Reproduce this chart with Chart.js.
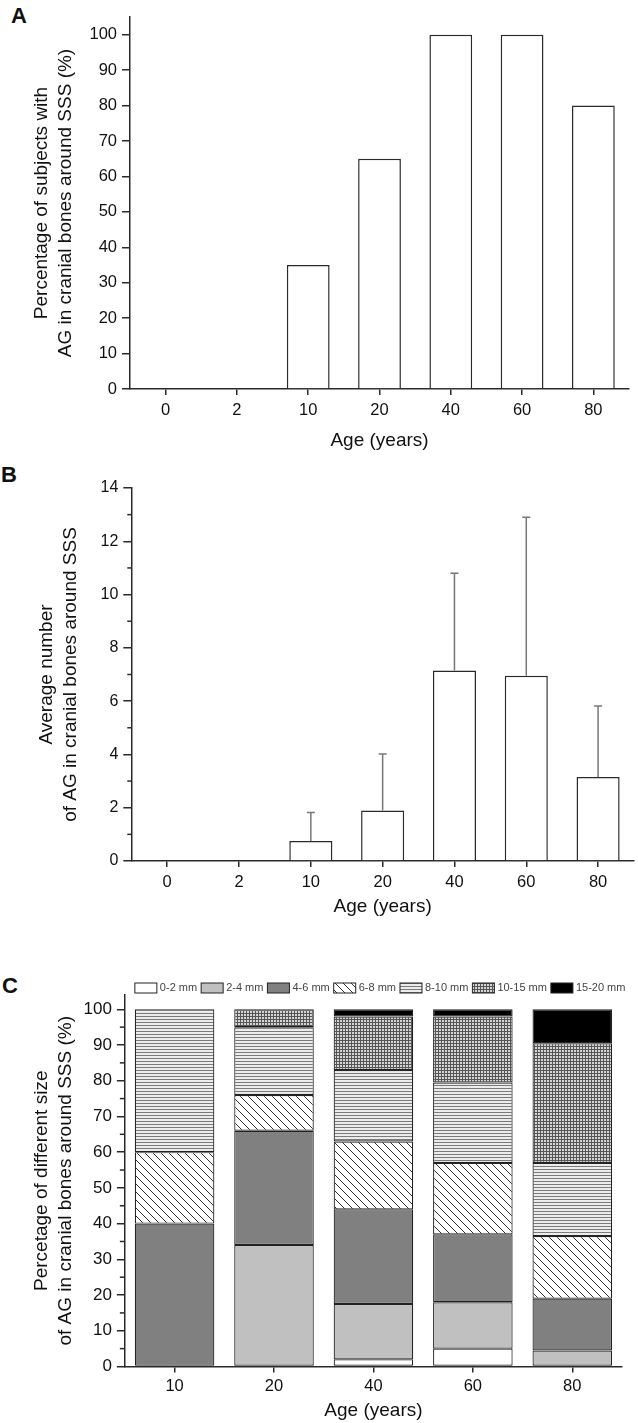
<!DOCTYPE html>
<html>
<head>
<meta charset="utf-8">
<script src="https://cdn.jsdelivr.net/npm/chart.js@4.4.1/dist/chart.umd.min.js"></script>
<style>
    body { margin: 0; background: #fff; }
    #page { position: relative; width: 638px; height: 1423px; overflow: hidden; }
    canvas { position: absolute; left: 0; }
    .panel { position: absolute; font: bold 22px "Liberation Sans", Arial, sans-serif; color: #111; line-height: 22px; }
</style>
</head>
<body>
<div id="page">
    <div class="panel" style="left:11px;top:5px">A</div>
    <div class="panel" style="left:1px;top:464px">B</div>
    <div class="panel" style="left:2px;top:975px">C</div>
    <canvas id="chartA" width="638" height="460" style="top:0px"></canvas>
    <canvas id="chartB" width="638" height="460" style="top:460px"></canvas>
    <canvas id="chartC" width="638" height="503" style="top:920px"></canvas>
</div>
<script>
// data
const ageLabels = ['0', '2', '10', '20', '40', '60', '80'];
const pctSubjects = [0, 0, 35, 65, 100, 100, 80];
const avgNumber = [0, 0, 0.75, 1.9, 7.15, 6.95, 3.15];
const avgNumberSD = [0, 0, 1.07, 2.12, 3.65, 5.95, 2.67];

const sizeAgeLabels = ['10', '20', '40', '60', '80'];
const sizeLabels = ['0-2 mm', '2-4 mm', '4-6 mm', '6-8 mm', '8-10 mm', '10-15 mm', '15-20 mm'];
const size0to2 = [0, 0, 2, 5, 0];
const size2to4 = [0, 34, 15.5, 13, 4.5];
const size4to6 = [40, 32, 26.5, 19, 14.5];
const size6to8 = [20, 10, 19, 20, 17.5];
const size8to10 = [40, 19, 20, 22.5, 20.5];
const size10to15 = [0, 5, 15, 18.5, 33.5];
const size15to20 = [0, 0, 2, 2, 9.5];

const FONT = '"Liberation Sans", Arial, sans-serif';
const INK = '#111';
const LINE = '#2a2a2a';

Chart.defaults.font.family = FONT;
Chart.defaults.color = INK;
Chart.defaults.animation = false;

// little tiles for the hatched fills
function makePattern(size, draw) {
    const c = document.createElement('canvas');
    c.width = size; c.height = size;
    const g = c.getContext('2d');
    draw(g, size);
    return document.getElementById('chartC').getContext('2d').createPattern(c, 'repeat');
}

const diagFill = makePattern(8, (g, s) => {
    g.fillStyle = '#fff'; g.fillRect(0, 0, s, s);
    g.strokeStyle = '#333'; g.lineWidth = 1;
    g.beginPath();
    g.moveTo(-1, -1); g.lineTo(s + 1, s + 1);
    g.moveTo(-1, s - 1); g.lineTo(1, s + 1);
    g.moveTo(s - 1, -1); g.lineTo(s + 1, 1);
    g.stroke();
});
const stripeFill = makePattern(3, (g, s) => {
    g.fillStyle = '#ececec'; g.fillRect(0, 0, s, s);
    g.fillStyle = '#7a7a7a'; g.fillRect(0, 0, s, 1);
});
const gridFill = makePattern(3, (g, s) => {
    g.fillStyle = '#d6d6d6'; g.fillRect(0, 0, s, s);
    g.fillStyle = '#555'; g.fillRect(0, 0, s, 1); g.fillRect(0, 0, 1, s);
});

function yAxis(opts) {
    return {
        min: 0,
        max: opts.max,
        border: { display: true, color: LINE, width: 1.5 },
        grid: { display: true, drawOnChartArea: false, drawTicks: true, tickLength: 8, color: LINE, lineWidth: 1.5 },
        ticks: { stepSize: opts.step, includeBounds: false, padding: 5, font: { size: opts.tickSize || 16.5 }, color: INK },
        afterBuildTicks: (scale) => { scale.ticks = scale.ticks.filter(t => t.value % opts.step === 0); },
        title: {
            display: true,
            text: opts.title,
            font: { size: 19, lineHeight: 1.25 },
            color: INK,
            padding: { top: opts.titleTop, bottom: opts.titleBottom }
        }
    };
}

function xAxis(tickPad, titleTop, titleBottom) {
    return {
        offset: true,
        border: { display: true, color: LINE, width: 1.5 },
        grid: { display: true, offset: false, drawOnChartArea: false, drawTicks: true, tickLength: 6, color: LINE, lineWidth: 1.5 },
        ticks: { padding: tickPad, font: { size: 16.5, lineHeight: 1 }, color: INK, maxRotation: 0 },
        title: {
            display: true,
            text: 'Age (years)',
            font: { size: 19, lineHeight: 1 },
            color: INK,
            padding: { top: titleTop, bottom: titleBottom }
        }
    };
}

// minor ticks between the labelled ones
function minorTicks(values, len) {
    return {
        id: 'minorTicks',
        afterDraw(chart) {
            const { ctx } = chart;
            const y = chart.scales.y;
            ctx.save();
            ctx.strokeStyle = LINE;
            ctx.lineWidth = 1.5;
            values.forEach(v => {
                const py = y.getPixelForValue(v);
                ctx.beginPath();
                ctx.moveTo(y.right - len, py);
                ctx.lineTo(y.right, py);
                ctx.stroke();
            });
            ctx.restore();
        }
    };
}

// ---------- A ----------
new Chart(document.getElementById('chartA'), {
    type: 'bar',
    data: {
        labels: ageLabels,
        datasets: [{
            data: pctSubjects,
            backgroundColor: '#fff',
            borderColor: LINE,
            borderWidth: 1.5,
            barPercentage: 0.6,
            categoryPercentage: 1
        }]
    },
    options: {
        responsive: false,
        layout: { padding: { top: 17, right: 9, bottom: 6, left: 0 } },
        plugins: { legend: { display: false }, tooltip: { enabled: false } },
        scales: {
            x: xAxis(7, 6, 3.5),
            y: yAxis({ max: 105, step: 10, title: ['Percentage of subjects with', 'AG in cranial bones around SSS (%)'], titleTop: 30, titleBottom: 7 })
        }
    }
});

// ---------- B ----------
new Chart(document.getElementById('chartB'), {
    type: 'bar',
    data: {
        labels: ageLabels,
        datasets: [{
            data: avgNumber,
            backgroundColor: '#fff',
            borderColor: LINE,
            borderWidth: 1.5,
            barPercentage: 0.6,
            categoryPercentage: 1
        }]
    },
    options: {
        responsive: false,
        layout: { padding: { top: 28, right: 4, bottom: 0, left: 0 } },
        plugins: { legend: { display: false }, tooltip: { enabled: false } },
        scales: {
            x: xAxis(7, 0, 3.5),
            y: yAxis({ max: 14, step: 2, tickSize: 16, title: ['Average number', 'of AG in cranial bones around SSS'], titleTop: 35, titleBottom: 13 })
        }
    },
    plugins: [minorTicks([1, 3, 5, 7, 9, 11, 13], 4), {
        id: 'errorBars',
        afterDatasetsDraw(chart) {
            const { ctx } = chart;
            const y = chart.scales.y;
            ctx.save();
            ctx.strokeStyle = '#777';
            ctx.lineWidth = 1.5;
            chart.getDatasetMeta(0).data.forEach((bar, i) => {
                if (!avgNumberSD[i]) return;
                const top = y.getPixelForValue(avgNumber[i] + avgNumberSD[i]);
                ctx.beginPath();
                ctx.moveTo(bar.x, bar.y);
                ctx.lineTo(bar.x, top);
                ctx.moveTo(bar.x - 4, top);
                ctx.lineTo(bar.x + 4, top);
                ctx.stroke();
            });
            ctx.restore();
        }
    }]
});

// ---------- C ----------
const sizeSeries = [size0to2, size2to4, size4to6, size6to8, size8to10, size10to15, size15to20];
const sizeFills = ['#fff', '#c0c0c0', '#808080', diagFill, stripeFill, gridFill, '#000'];

new Chart(document.getElementById('chartC'), {
    type: 'bar',
    data: {
        labels: sizeAgeLabels,
        datasets: sizeSeries.map((vals, i) => ({
            label: sizeLabels[i],
            data: vals,
            backgroundColor: sizeFills[i],
            borderColor: '#222',
            borderWidth: 1.2,
            borderSkipped: false,
            barPercentage: 0.8,
            categoryPercentage: 1
        }))
    },
    options: {
        responsive: false,
        layout: { padding: { top: 75, right: 16, bottom: 0, left: 0 } },
        plugins: { legend: { display: false }, tooltip: { enabled: false } },
        scales: {
            x: Object.assign(xAxis(6, 0, 3), { stacked: true }),
            y: Object.assign(yAxis({ max: 104, step: 10, tickSize: 17, title: ['Percetage of different size', 'of AG in cranial bones around SSS (%)'], titleTop: 30, titleBottom: 1 }), { stacked: true })
        }
    },
    plugins: [minorTicks([5, 15, 25, 35, 45, 55, 65, 75, 85, 95], 5), {
        id: 'sizeLegend',
        afterDraw(chart) {
            const { ctx, chartArea } = chart;
            ctx.save();
            ctx.font = '11px ' + FONT;
            ctx.textBaseline = 'middle';
            let x = chartArea.left + 10;
            const cy = 68;
            chart.data.datasets.forEach(ds => {
                ctx.fillStyle = ds.backgroundColor;
                ctx.fillRect(x, cy - 5, 22, 10);
                ctx.strokeStyle = '#222';
                ctx.lineWidth = 1;
                ctx.strokeRect(x, cy - 5, 22, 10);
                x += 25;
                ctx.fillStyle = '#444';
                ctx.fillText(ds.label, x, cy);
                x += ctx.measureText(ds.label).width + 4;
            });
            ctx.restore();
        }
    }]
});
</script>
</body>
</html>
